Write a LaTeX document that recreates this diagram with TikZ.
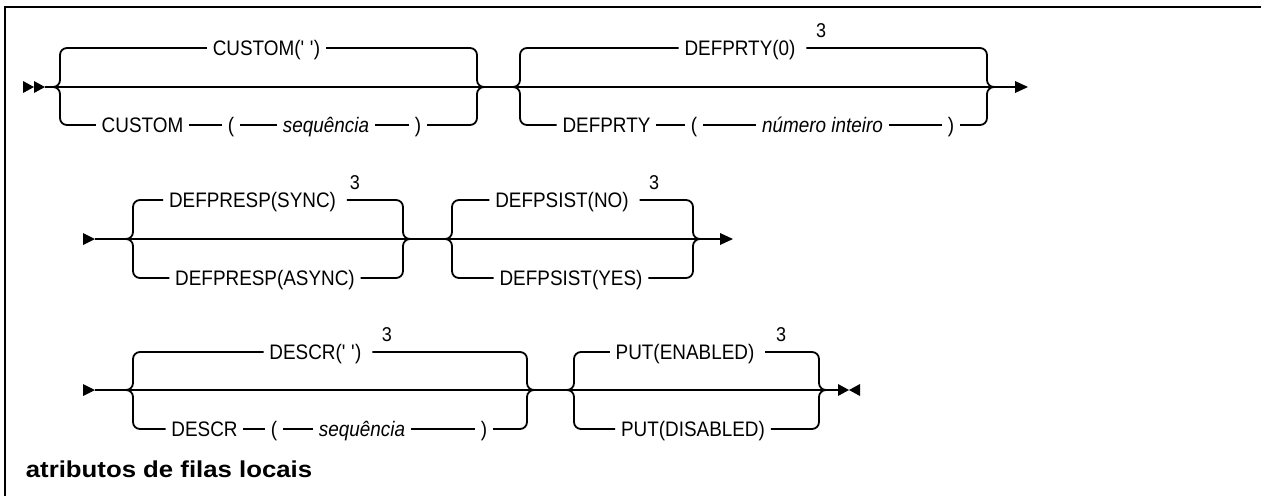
\documentclass[tikz,border=0pt]{standalone}
\usepackage{fontspec}
\setmainfont{Liberation Sans}[FakeStretch=0.9]
\newfontfamily\titlefont[FakeStretch=1.12]{Liberation Sans}
\begin{document}
\begin{tikzpicture}[x=1pt,y=-1pt,line width=1.8pt,
  lbl/.style={font=\fontsize{21}{24}\selectfont, inner xsep=5pt, inner ysep=0pt, text height=15pt, text depth=0pt},
  ital/.style={lbl, font=\fontsize{21}{24}\selectfont\itshape},
  supr/.style={font=\fontsize{20}{22}\selectfont, inner sep=0pt},
  br/.style={rounded corners=7pt},
  tip/.style={fill=black, draw=none}]
\useasboundingbox (0,0) rectangle (1261,496);
% frame
\coordinate (fTR) at (1261,7);
\coordinate (fTL) at (5,7);
\coordinate (fBL) at (5,496);
\draw[line width=2.5pt] (fTR) -- (fTL) -- (fBL);

% ================= Row 1 =================
\coordinate (r1s) at (45,87);
\coordinate (r1e) at (1016,87);
\fill[tip] (23,81) -- (34,87) -- (23,93) -- cycle;
\fill[tip] (34,81) -- (45,87) -- (34,93) -- cycle;
\draw (r1s) -- (r1e);
\fill[tip] (1015,81) -- (1028,87) -- (1015,93) -- cycle;
% group A
\coordinate (Ain) at (53,87); \coordinate (Aul) at (60,48); \coordinate (All) at (60,125);
\coordinate (Aur) at (477,48); \coordinate (Alr) at (477,125); \coordinate (Aout) at (484,87);
\node[lbl] (Au) at (266.5,48) {CUSTOM(\textquotesingle\ \textquotesingle)};
\node[lbl] (Al1) at (142.5,125) {CUSTOM};
\node[lbl] (Al2) at (231,125) {(};
\node[ital] (Al3) at (326,125) {sequência};
\node[lbl] (Al4) at (418,125) {)};
\draw[br] (Ain) -| (Aul) -- (Au.west);
\draw[br] (Au.east) -- (Aur) |- (Aout);
\draw[br] (Ain) -| (All) -- (Al1.west);
\draw (Al1) -- (Al2) -- (Al3) -- (Al4);
\draw[br] (Al4.east) -- (Alr) |- (Aout);
% group B
\coordinate (Bin) at (513,87); \coordinate (Bul) at (520,48); \coordinate (Bll) at (520,125);
\coordinate (Bur) at (987,48); \coordinate (Blr) at (987,125); \coordinate (Bout) at (994,87);
\node[lbl] (Bu) at (740,48) {DEFPRTY(0)};
\node[supr] (Bs) at (821,31) {3};
\node[lbl] (Bl1) at (606.5,125) {DEFPRTY};
\node[lbl] (Bl2) at (694,125) {(};
\node[ital] (Bl3) at (822.5,125) {número inteiro};
\node[lbl] (Bl4) at (951,125) {)};
\draw[br] (Bin) -| (Bul) -- (Bu.west);
\draw[br] ([xshift=5pt]Bu.east) -- (Bur) |- (Bout);
\draw[br] (Bin) -| (Bll) -- (Bl1.west);
\draw (Bl1) -- (Bl2) -- (Bl3) -- (Bl4);
\draw[br] (Bl4.east) -- (Blr) |- (Bout);

% ================= Row 2 =================
\coordinate (r2s) at (95,239);
\coordinate (r2e) at (721,239);
\fill[tip] (83,233) -- (95,239) -- (83,245) -- cycle;
\draw (r2s) -- (r2e);
\fill[tip] (720,233) -- (733,239) -- (720,245) -- cycle;
% group C
\coordinate (Cin) at (126,239); \coordinate (Cul) at (133,200); \coordinate (Cll) at (133,278);
\coordinate (Cur) at (403,200); \coordinate (Clr) at (403,278); \coordinate (Cout) at (410,239);
\node[lbl] (Cu) at (252.5,200) {DEFPRESP(SYNC)};
\node[supr] (Cs) at (355,183) {3};
\node[lbl] (Cl) at (265,278) {DEFPRESP(ASYNC)};
\draw[br] (Cin) -| (Cul) -- (Cu.west);
\draw[br] ([xshift=5pt]Cu.east) -- (Cur) |- (Cout);
\draw[br] (Cin) -| (Cll) -- (Cl.west);
\draw[br] (Cl.east) -- (Clr) |- (Cout);
% group D
\coordinate (Din) at (445,239); \coordinate (Dul) at (452,200); \coordinate (Dll) at (452,278);
\coordinate (Dur) at (693,200); \coordinate (Dlr) at (693,278); \coordinate (Dout) at (700,239);
\node[lbl] (Du) at (562,200) {DEFPSIST(NO)};
\node[supr] (Ds) at (654,183) {3};
\node[lbl] (Dl) at (571,278) {DEFPSIST(YES)};
\draw[br] (Din) -| (Dul) -- (Du.west);
\draw[br] ([xshift=5pt]Du.east) -- (Dur) |- (Dout);
\draw[br] (Din) -| (Dll) -- (Dl.west);
\draw[br] (Dl.east) -- (Dlr) |- (Dout);

% ================= Row 3 =================
\coordinate (r3s) at (95,390);
\coordinate (r3e) at (839,390);
\fill[tip] (83,384) -- (95,390) -- (83,396) -- cycle;
\draw (r3s) -- (r3e);
\fill[tip] (838,384) -- (849,390) -- (838,396) -- cycle;
\fill[tip] (860,384) -- (849,390) -- (860,396) -- cycle;
% group E
\coordinate (Ein) at (126,390); \coordinate (Eul) at (133,352); \coordinate (Ell) at (133,429);
\coordinate (Eur) at (527,352); \coordinate (Elr) at (527,429); \coordinate (Eout) at (534,390);
\node[lbl] (Eu) at (315.5,352) {DESCR(\textquotesingle\ \textquotesingle)};
\node[supr] (Es) at (387,335) {3};
\node[lbl] (El1) at (204.5,429) {DESCR};
\node[lbl] (El2) at (274,429) {(};
\node[ital] (El3) at (362,429) {sequência};
\node[lbl] (El4) at (484,429) {)};
\draw[br] (Ein) -| (Eul) -- (Eu.west);
\draw[br] ([xshift=5pt]Eu.east) -- (Eur) |- (Eout);
\draw[br] (Ein) -| (Ell) -- (El1.west);
\draw (El1) -- (El2) -- (El3) -- (El4);
\draw[br] (El4.east) -- (Elr) |- (Eout);
% group F
\coordinate (Fin) at (567,390); \coordinate (Ful) at (574,352); \coordinate (Fll) at (574,429);
\coordinate (Fur) at (819,352); \coordinate (Flr) at (819,429); \coordinate (Fout) at (826,390);
\node[lbl] (Fu) at (685,352) {PUT(ENABLED)};
\node[supr] (Fs) at (781,335) {3};
\node[lbl] (Fl) at (693,429) {PUT(DISABLED)};
\draw[br] (Fin) -| (Ful) -- (Fu.west);
\draw[br] ([xshift=5pt]Fu.east) -- (Fur) |- (Fout);
\draw[br] (Fin) -| (Fll) -- (Fl.west);
\draw[br] (Fl.east) -- (Flr) |- (Fout);

% title
\node[anchor=base west, inner sep=0pt, font=\titlefont\bfseries\fontsize{23}{26}\selectfont] (title) at (25,477) {atributos de filas locais};
\end{tikzpicture}
\end{document}
